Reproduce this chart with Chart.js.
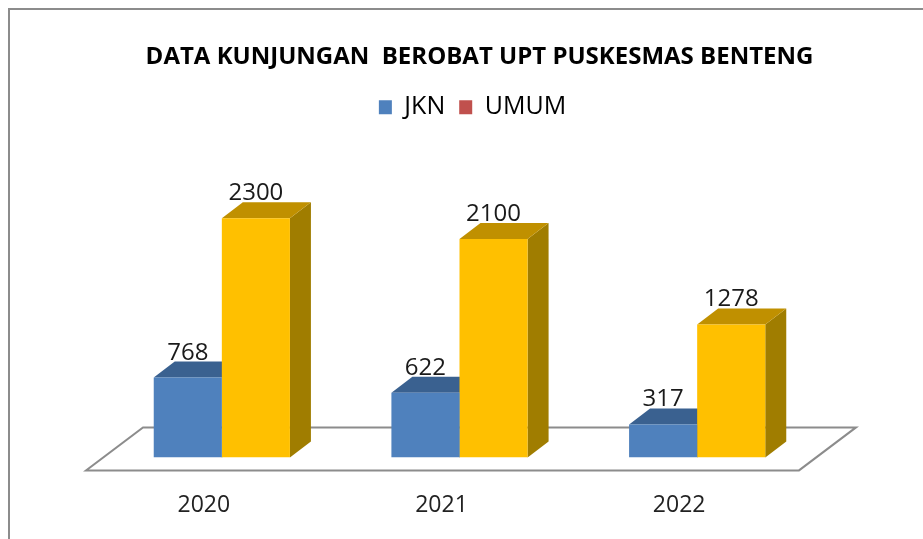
<!DOCTYPE html>
<html>
<head>
<meta charset="utf-8">
<script src="https://cdn.jsdelivr.net/npm/chart.js@4.4.0/dist/chart.umd.min.js"></script>
<style>
	body { margin:0; overflow:hidden; background:#fff; }
	#frame { position:absolute; left:8px; top:8px; width:1000px; height:700px; border:2px solid #8c8c8c; }
	#c { position:absolute; left:0; top:0; }
</style>
</head>
<body>
<div id="frame"></div>
<canvas id="c" width="923" height="573"></canvas>
<script>
const years = ['2020', '2021', '2022']
const jkn = [768, 622, 317]
const umum = [2300, 2100, 1278]
const seriesNames = ['JKN', 'UMUM']
const frontColors = ['#4F81BD', '#FFC000']
const topColors = ['#3A6190', '#C09000']
const sideColors = ['#2F5075', '#A07D00']
const legendColors = ['#4F81BD', '#C0504D']

const FONT = "'Open Sans', 'Noto Sans', sans-serif"
const DX = 21, DY = -16

// floor + top/side faces of the bars (fronts are the real bars, drawn after)
const box3d = {
	id:'box3d',
	afterLayout: c => {
		// title and legend sit a bit right of the plot centre in the original
		c.titleBlock.left += 20; c.titleBlock.right += 20
		c.legend.left += 13; c.legend.right += 13
	},
	beforeDatasetsDraw: c => {
		const ctx = c.ctx, a = c.chartArea
		ctx.save()
		ctx.beginPath()
		ctx.moveTo(a.left - 17, a.bottom + 13)
		ctx.lineTo(a.right - 17, a.bottom + 13)
		ctx.lineTo(a.right + 40, a.bottom - 30)
		ctx.lineTo(a.left + 40, a.bottom - 30)
		ctx.closePath()
		ctx.fillStyle = '#fff'
		ctx.fill()
		ctx.strokeStyle = '#8c8c8c'
		ctx.lineWidth = 2
		ctx.stroke()
		c.data.datasets.forEach((d, i) => {
			c.getDatasetMeta(i).data.forEach(b => {
				const l = b.x - b.width / 2, r = b.x + b.width / 2
				ctx.fillStyle = sideColors[i]
				ctx.beginPath()
				ctx.moveTo(r, b.y); ctx.lineTo(r + DX, b.y + DY); ctx.lineTo(r + DX, b.base + DY); ctx.lineTo(r, b.base)
				ctx.closePath(); ctx.fill()
				ctx.fillStyle = topColors[i]
				ctx.beginPath()
				ctx.moveTo(l, b.y); ctx.lineTo(r, b.y); ctx.lineTo(r + DX, b.y + DY); ctx.lineTo(l + DX, b.y + DY)
				ctx.closePath(); ctx.fill()
			})
		})
		ctx.restore()
	},
	afterDatasetsDraw: c => {
		const ctx = c.ctx
		ctx.save()
		ctx.font = `24px ${FONT}`
		ctx.fillStyle = '#1a1a1a'
		ctx.textAlign = 'center'
		ctx.textBaseline = 'alphabetic'
		c.data.datasets.forEach((d, i) => {
			c.getDatasetMeta(i).data.forEach((b, j) => {
				ctx.fillText(d.data[j], b.x, b.y + DY - 2)
			})
		})
		ctx.restore()
	}
}

new Chart(document.getElementById('c'), {
	type:'bar',
	plugins:[box3d],
	data:{
		labels: years,
		datasets:[
			{ label: seriesNames[0], data: jkn, backgroundColor: frontColors[0] },
			{ label: seriesNames[1], data: umum, backgroundColor: frontColors[1] },
		]
	},
	options:{
		responsive:false,
		animation:false,
		devicePixelRatio:1,
		layout:{ padding:{ left:103, right:107, top:0, bottom:20 } },
		datasets:{ bar:{ barPercentage:1, categoryPercentage:0.573 } },
		plugins:{
			tooltip:{ enabled:false },
			title:{
				display:true,
				text:'DATA KUNJUNGAN  BEROBAT UPT PUSKESMAS BENTENG',
				color:'#000',
				font:{ family:FONT, size:24, weight:'bold' },
				padding:{ top:43, bottom:9 }
			},
			legend:{
				labels:{
					color:'#222',
					font:{ family:FONT, size:25 },
					boxWidth:13, boxHeight:14,
					padding:14,
					generateLabels: c => c.data.datasets.map((d, i) => ({
						text:d.label, fillStyle:legendColors[i], strokeStyle:legendColors[i], lineWidth:0, datasetIndex:i
					}))
				}
			}
		},
		scales:{
			x:{
				grid:{ display:false, drawTicks:false },
				border:{ display:false },
				ticks:{ color:'#222', font:{ family:FONT, size:23 }, padding:34, labelOffset:-18 }
			},
			y:{
				display:false,
				min:0, max:3150
			}
		}
	}
})
</script>
</body>
</html>
